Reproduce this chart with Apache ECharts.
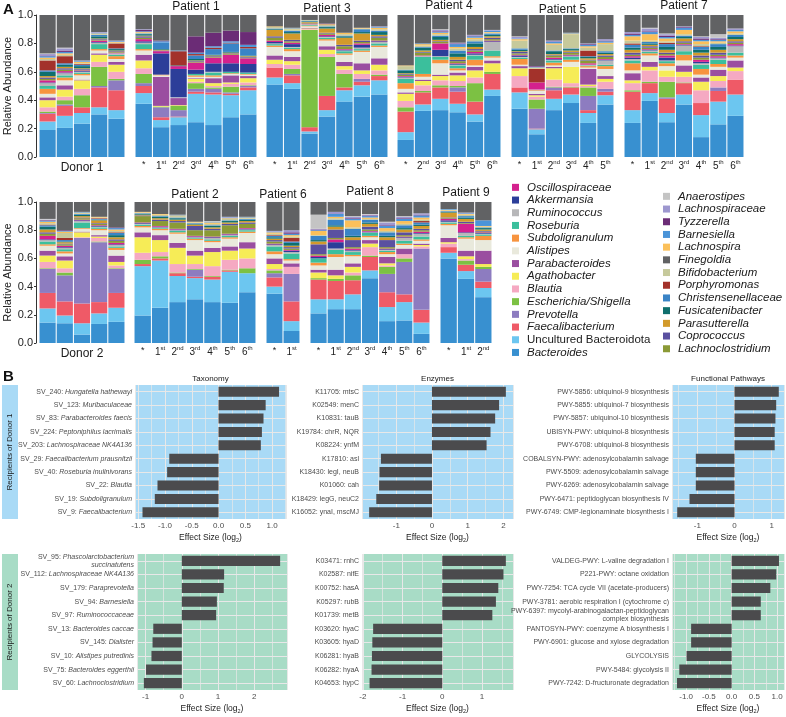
<!DOCTYPE html>
<html><head><meta charset="utf-8">
<script src="https://cdn.jsdelivr.net/npm/echarts@6/dist/echarts.min.js"></script>
<style>html,body{margin:0;padding:0;background:#fff}#c{width:786px;height:717px}</style>
</head><body><div id="c"></div><script>
// ---------------- Panel A data ----------------
const groupNames = ['Donor 1','Patient 1','Patient 3','Patient 4','Patient 5','Patient 7','Donor 2','Patient 2','Patient 6','Patient 8','Patient 9'];
const groupTicks = [
  ['d1a','d1b','d1c','d1d','d1e'],
  ['*','1st','2nd','3rd','4th','5th','6th'],
  ['*','1st','2nd','3rd','4th','5th','6th'],
  ['*','2nd','3rd','4th','5th','6th'],
  ['*','1st','2nd','3rd','4th','5th'],
  ['*','1st','2nd','3rd','4th','5th','6th'],
  ['d2a','d2b','d2c','d2d','d2e'],
  ['*','1st','2nd','3rd','4th','5th','6th'],
  ['*','1st'],
  ['*','1st','2nd','3rd','4th','5th','6th'],
  ['*','1st','2nd']
];
// values per taxon, samples in group order: D1(5) P1(7) P3(7) P4(6) P5(6) P7(7) | D2(5) P2(7) P6(2) P8(7) P9(3)
const bacteroides = [.19,.205,.235,.30,.27, .375,.21,.225,.245,.225,.28,.30, .51,.48,.165,.285,.39,.425,.44, .12,.325,.33,.315,.25,.43, .34,.16,.33,.38,.24,.37, .24,.395,.245,.37,.14,.23,.29, .145,.14,.06,.135,.15, .195,.25,.29,.31,.29,.285,.36, .35,.085, .21,.24,.24,.46,.155,.16,.065, .60,.455,.325];
const uncultured = [.06,.085,.075,.05,.06, .075,.05,.055,.20,.215,.155,.17, .05,.04,.015,.045,.08,.08,.10, .055,.045,.08,.06,.05,.045, .115,.035,.08,.06,.07,.065, .09,.055,.065,.07,.155,.16,.15, .10,.055,.08,.075,.10, .35,.335,.185,.15,.16,.22,.135, .05,.07, .10,.07,.105,.055,.10,.13,.08, .04,.055,.065];
const faecalibacterium = [.055,.07,.04,.14,.14, .05,.02,.005,.015,.015,.01,.02, .07,.055,.03,.10,.02,.025,.03, .145,.085,.08,.085,.09,.11, .035,.005,.06,.05,.02,.025, .13,.07,.10,.08,.085,.075,.105, .11,.10,.14,.08,.105, .015,.015,.02,.01,.02,.01,0, .065,.14, .14,.13,.10,.095,.105,.055,.09, .04,.045,.045];
const prevotella = [.005,.01,0,.01,.07, .02,.07,.045,.02,.025,.01,.01, 0,.01,0,0,0,.02,0, 0,0,0,.03,0,0, 0,.14,.02,0,.10,.02, 0,0,.01,0,0,.025,0, .17,.185,.465,.425,.17, 0,0,0,.05,0,0,0, .03,.195, 0,0,0,0,.13,.23,.435, 0,0,.09];
const escherichia = [.01,.03,.085,.135,.01, .065,.005,.03,.04,.01,.04,.005, 0,.035,.685,.275,.095,0,.01, .03,.01,.015,.01,.13,.015, 0,.065,.005,.005,.06,0, .01,.01,.11,.005,0,0,0, .005,.02,0,.005,.005, .03,.015,.005,.005,.005,.005,.035, .02,0, .01,.015,.035,.01,.05,.025,0, 0,.03,.015];
const blautia = [.03,.025,.045,.035,.05, .04,0,0,.01,.01,.02,.02, .025,.03,.005,.02,.03,.035,.03, .045,.04,.035,.035,.04,0, .08,.02,.05,.025,.01,.05, .05,.08,.035,.04,.09,.045,.06, .045,.03,.005,.025,.02, .05,.03,.06,.035,.07,.07,.07, .01,.05, 0,0,.02,.06,.01,.03,.015, .025,.01,0];
const agathobacter = [.05,.05,.06,.05,.05, .055,.005,.005,.02,.02,.01,.03, .03,.025,.005,.03,.025,.025,.04, .05,.03,.03,.04,.05,.06, .055,.01,.08,.115,.01,.02, .02,.025,.045,.035,.06,.035,.025, .045,.055,.035,.01,.025, .11,.085,.115,.06,.10,.065,.07, .035,0, .04,.025,.04,.025,.015,0,.01, .01,.02,.02];
const parabacteroides = [.02,.03,.005,.01,.02, .04,.205,.05,.005,.035,.05,.015, .03,.03,.005,.025,.03,.05,.045, .01,.01,.01,.02,.025,.02, .015,.01,.01,0,.11,.02, .05,.035,0,.045,.03,.045,.05, .035,.03,.005,.01,.045, .035,.035,.035,.035,.03,.03,.045, .04,.025, .02,.04,.025,.025,.045,.04,.01, .03,.04,.095];
const alistipes = [.025,.035,.03,.02,.02, .03,.01,.005,.01,.01,.01,.01, .06,.04,.01,.04,.05,.08,.08, .025,.02,.08,.015,.01,.02, .01,.02,.01,.035,.01,.05, .02,.045,.03,.035,.02,.02,.02, .035,.02,.02,.035,.04, .035,.035,.065,.075,.04,.055,.065, .03,.02, .03,.09,.05,.02,.02,.025,.02, .09,.085,.075];
const subdoligranulum = [.035,.02,.01,.01,.02, .01,.005,0,.01,.01,.005,.005, .01,.015,.005,.01,.01,.01,.01, .04,.02,.025,.015,.04,.01, .04,.005,.02,.015,.01,.02, .05,.015,.02,.04,.04,.02,.015, .01,.015,.005,.01,.015, .01,.01,.01,.01,.01,.01,.01, .02,.01, .02,.02,.01,.01,.015,.01,.01, .01,.01,.03];
const roseburia = [.02,.015,.01,.035,.01, .035,0,0,.01,.02,.01,.01, .01,.01,.005,.01,.015,.01,.015, .03,.12,.02,.02,.03,.04, .01,0,.015,.02,.005,.01, .02,.01,.015,.025,.03,.03,.02, .02,.015,.04,.01,.01, .01,.005,.01,.005,.01,.01,.01, .035,.04, .03,.03,.02,.02,.01,.02,.02, .01,.01,.01];
const ruminococcus = [.02,.015,.005,.01,.01, .01,0,0,0,.005,0,0, .005,.005,.005,.005,.005,.01,.01, .01,.005,.005,.005,.005,.06, .005,.005,.005,.005,.005,.03, .01,.01,.005,.04,.01,.01,.045, .01,.01,.01,.005,.01, .005,.005,.005,.005,.01,.005,.005, .01,.01, 0,.01,.01,.005,.005,.02,.02, .005,.02,.005];
const akkermansia = [.005,.005,.005,.005,0, .01,.15,.2,.03,.06,.06,.06, .01,.02,0,.005,.005,.02,.005, .005,0,.045,.005,.01,.005, .01,0,.005,.005,0,.005, .01,.005,.02,.005,.01,.005,.005, .005,.005,.005,.005,.005, .005,.005,.005,.005,.005,.005,.005, .005,.01, .01,.045,.005,.005,.005,.005,.005, .01,.005,.005];
const oscillospiraceae = [.015,.01,.005,.01,.005, .015,.015,.02,.05,.04,.06,.04, .01,.01,.005,.01,.005,.01,.005, .005,.005,.045,.005,.01,.005, .005,.05,.01,.005,.01,.005, .01,.005,.015,.005,.015,.01,.01, .025,.01,.005,.005,.01, .005,.005,.005,.005,.005,.005,.005, .005,.005, .01,.02,.01,.005,.005,.005,.01, .01,.06,.005];
const lachnoclostridium = [.01,.01,.005,.005,.005, .01,0,0,.005,.005,.005,.005, .02,.01,.005,.01,.02,.01,.02, .01,.02,.01,.015,.01,.01, .01,0,.015,.015,.02,.015, .01,.01,.01,.01,.015,.01,.01, .015,.01,.01,.01,.015, .045,.035,.045,.04,.045,.06,.03, .015,.01, .01,.01,.01,.01,.01,.01,.01, .005,.005,.005];
const coprococcus = [.01,.01,.005,.005,.005, .01,.005,0,.005,.005,.005,.005, .01,.01,0,.005,.01,.01,.01, .005,.005,.005,.01,.01,.01, .01,0,.005,.005,.005,.01, .015,.01,.01,.01,.015,.015,.01, .01,.005,.005,.005,.01, .005,.01,.01,.03,.01,.01,.01, .01,.01, .07,.06,.05,.02,.05,.02,.01, .005,.01,.005];
const parasutterella = [.01,.01,.005,.005,.005, .005,.005,0,.005,.005,.005,.005, .045,.045,.005,.03,.05,.05,.01, .005,.01,.01,.02,.015,.01, .005,0,.005,.01,.01,.01, .02,.01,.02,.02,.02,.02,.015, .02,.01,.01,.02,.015, .005,.01,.01,.01,.01,.01,.01, .01,.01, .02,.02,.02,.02,.02,.02,.02, .035,.02,.01];
const fusicatenibacter = [.03,.015,.015,.015,.01, .01,.005,.005,.01,.005,.005,.005, .005,.01,.005,.01,.01,.01,.02, .02,.02,.02,.025,.025,.01, .01,0,.02,.01,.01,.01, .015,.01,.02,.01,.02,.02,.015, .02,.005,.01,.005,.015, .005,.01,.01,.005,.01,.01,.01, .01,.02, .01,.01,.01,.01,.01,.01,.01, .005,.01,.01];
const christensenellaceae = [.01,.01,.01,.01,.005, .005,.045,0,.025,.04,.06,.05, .005,.01,.005,.005,.005,.02,.01, .005,.005,.01,.02,.015,.01, .01,0,.005,.005,.005,.01, .02,.01,.02,.01,.02,.02,.015, .01,.01,.005,.005,.015, .005,.005,.005,.005,.005,.005,.005, .01,.01, .03,.04,.05,.02,.025,.02,.015, .005,.01,.005];
const porphyromonas = [.07,.05,.005,0,.035, 0,0,.1,.01,.01,.005,.01, 0,0,0,0,0,0,0, 0,0,0,0,0,0, 0,.095,0,0,.04,0, .01,0,.01,0,.005,0,0, .005,.015,0,.005,.005, 0,0,0,0,0,0,0, .005,.025, 0,0,0,0,0,0,.01, 0,0,0];
const bifidobacterium = [.01,.01,.005,.005,.005, .005,0,0,0,0,0,0, .01,.01,.005,.01,.01,.005,.01, .025,.01,.01,.015,.015,.005, .055,.005,.04,.1,.02,.05, .02,.01,.01,.01,.015,.01,.01, .01,.035,.005,.005,.01, .005,.01,.01,.005,.01,.01,.005, .01,.01, .005,.01,.01,.005,.01,.01,.01, .005,.01,.005];
const lachnospira = [.01,.01,.01,.005,.005, .005,0,0,0,0,0,0, .005,.005,0,.005,.01,.005,.01, .005,.01,.01,.01,.01,.005, .01,.005,.01,.005,.01,.01, .03,.045,.02,.03,.02,.01,.015, .01,.01,.005,.005,.01, .005,.005,.005,.005,.01,.005,.005, .01,.01, .03,.01,.05,.01,.02,.02,.015, .005,.005,.005];
const barnesiella = [.01,.01,.005,.005,.005, .005,.01,.005,.01,.01,.01,.015, 0,.005,0,0,0,0,.005, 0,.005,.005,.02,.01,.01, .005,.005,.01,.005,.01,.01, .01,.015,.01,.015,.01,.01,.01, .005,.005,.005,0,.01, 0,0,.005,0,.005,.005,.005, .005,.01, .005,.02,.01,.01,.015,.015,.015, .005,.005,.04];
const tyzzerella = [.005,.01,0,0,0, .01,.005,0,.115,.095,.075,.09, 0,0,0,.005,0,0,0, 0,0,.005,.005,.005,0, 0,.005,0,0,.005,.005, .01,.005,.01,.005,.01,.005,0, .005,.005,0,0,.005, 0,0,0,0,0,0,0, 0,.01, .005,0,.005,.005,.005,.005,.005, 0,0,0];
const lachnospiraceae = [.01,.015,.005,.005,.005, .005,0,0,0,0,0,0, 0,0,0,0,0,0,.005, 0,0,.01,.005,.005,.005, .01,0,.01,0,.005,.01, .01,.02,.01,.005,.01,.01,.01, .005,0,0,0,0, 0,0,0,0,0,.005,0, .005,.015, .005,.015,.01,.005,.02,.01,.01, 0,.005,0];
const anaerostipes = [.005,.005,0,0,0, 0,0,0,0,0,0,0, 0,0,0,0,0,0,0, 0,0,.005,0,0,0, .005,0,0,0,0,0, 0,.005,.005,0,.005,.025,0, .005,0,0,0,0, 0,0,0,0,.005,0,0, 0,0, .10,0,.005,.005,.005,.005,0, 0,0,0];
const finegoldia = [.27,.23,.32,.12,.18, .10,.18,.25,.15,.125,.11,.12, .08,.09,.035,.06,.125,.09,.08, .355,.20,.10,.195,.14,.105, .15,.36,.18,.125,.20,.17, .13,.09,.13,.08,.15,.135,.095, .12,.20,.07,.105,.18, .07,.085,.09,.14,.135,.105,.105, .205,.20, .09,.07,.10,.085,.14,.10,.08, .05,.075,.13];

const legendCol1 = ['Oscillospiraceae','Akkermansia','Ruminococcus','Roseburia','Subdoligranulum','Alistipes','Parabacteroides','Agathobacter','Blautia','Escherichia/Shigella','Prevotella','Faecalibacterium','Uncultured Bacteroidota','Bacteroides'];
const legendCol2 = ['Anaerostipes','Lachnospiraceae','Tyzzerella','Barnesiella','Lachnospira','Finegoldia','Bifidobacterium','Porphyromonas','Christensenellaceae','Fusicatenibacter','Parasutterella','Coprococcus','Lachnoclostridium'];

// ---------------- Panel B data ----------------
const taxD1Labels = ['SV_240: Hungatella hathewayi','SV_123: Muribaculaceae','SV_83: Parabacteroides faecis','SV_224: Peptoniphilus lacrimalis','SV_203: Lachnospiraceae NK4A136','SV_29: Faecalibacterium prausnitzii','SV_40: Roseburia inulinivorans','SV_22: Blautia','SV_19: Subdoligranulum','SV_9: Faecalibacterium'];
const taxD1Values = [1.13,0.88,0.84,0.81,0.79,-0.92,-0.96,-1.14,-1.19,-1.42];
const enzD1Labels = ['K11705: mtsC','K02549: menC','K10831: tauB','K19784: chrR, NQR','K08224: ynfM','K17810: asl','K18430: legI, neuB','K01060: cah','K18429: legG, neuC2','K16052: ynaI, mscMJ'];
const enzD1Values = [2.07,1.88,1.77,1.64,1.53,-1.43,-1.47,-1.48,-1.56,-1.76];
const pathD1Labels = ['PWY-5856: ubiquinol-9 biosynthesis','PWY-5855: ubiquinol-7 biosynthesis','PWY-5857: ubiquinol-10 biosynthesis','UBISYN-PWY: ubiquinol-8 biosynthesis','PWY-6708: ubiquinol-8 biosynthesis','COBALSYN-PWY: adenosylcobalamin salvage','PWY-5509: adenosylcobalamin salvage','PWY-6269: adenosylcobalamin salvage','PWY-6471: peptidoglycan biosynthesis IV','PWY-6749: CMP-legionaminate biosynthesis I'];
const pathD1Values = [1.19,1.12,1.10,1.08,1.08,-1.04,-1.04,-1.04,-1.21,-1.54];
const taxD2Labels = ['SV_95: Phascolarctobacterium\nsuccinatutens','SV_112: Lachnospiraceae NK4A136','SV_179: Paraprevotella','SV_94: Barnesiella','SV_97: Ruminococcaceae','SV_13: Bacteroides caccae','SV_145: Dialister','SV_10: Alistipes putredinis','SV_75: Bacteroides eggerthii','SV_60: Lachnoclostridium'];
const taxD2Values = [2.72,1.17,1.16,0.97,0.95,-0.79,-0.81,-0.84,-0.99,-1.05];
const enzD2Labels = ['K03471: rnhC','K02587: nifE','K00752: hasA','K05297: rubB','K01739: metB','K03620: hyaC','K03605: hyaD','K06281: hyaB','K06282: hyaA','K04653: hypC'];
const enzD2Values = [1.60,1.54,1.41,1.35,1.26,-1.74,-1.76,-1.77,-1.78,-1.83];
const pathD2Labels = ['VALDEG-PWY: L-valine degradation I','P221-PWY: octane oxidation','PWY-7254: TCA cycle VII (acetate-producers)','PWY-3781: aerobic respiration I (cytochrome c)','PWY-6397: mycolyl-arabinogalactan-peptidoglycan\ncomplex biosynthesis','PANTOSYN-PWY: coenzyme A biosynthesis I','PWY-6901: glucose and xylose degradation','GLYCOLYSIS','PWY-5484: glycolysis II','PWY-7242: D-fructuronate degradation'];
const pathD2Values = [1.04,0.98,0.85,0.64,0.64,-0.89,-0.89,-0.99,-1.15,-1.20];

// ---------------- Build ----------------
const FONT = "'Liberation Sans', Arial, Helvetica, sans-serif";
const taxa = [
  ['Bacteroides','#3890d0',bacteroides],
  ['Uncultured Bacteroidota','#6cc6f0',uncultured],
  ['Faecalibacterium','#ef5a67',faecalibacterium],
  ['Prevotella','#8d7cc0',prevotella],
  ['Escherichia/Shigella','#7cc143',escherichia],
  ['Blautia','#f5a9c2',blautia],
  ['Agathobacter','#f6ec57',agathobacter],
  ['Parabacteroides','#9a4ea0',parabacteroides],
  ['Alistipes','#e9e9dc',alistipes],
  ['Subdoligranulum','#f7943f',subdoligranulum],
  ['Roseburia','#3bbf9c',roseburia],
  ['Ruminococcus','#b7b7b9',ruminococcus],
  ['Akkermansia','#2c3e99',akkermansia],
  ['Oscillospiraceae','#d4218e',oscillospiraceae],
  ['Lachnoclostridium','#8b9a36',lachnoclostridium],
  ['Coprococcus','#5a50a0',coprococcus],
  ['Parasutterella','#d29a2b',parasutterella],
  ['Fusicatenibacter','#0f6f6d',fusicatenibacter],
  ['Christensenellaceae','#3a84c6',christensenellaceae],
  ['Porphyromonas','#a3322b',porphyromonas],
  ['Bifidobacterium','#c6c99b',bifidobacterium],
  ['Lachnospira','#fbc05a',lachnospira],
  ['Barnesiella','#4b94d8',barnesiella],
  ['Tyzzerella','#6b2c76',tyzzerella],
  ['Lachnospiraceae','#9d97cf',lachnospiraceae],
  ['Anaerostipes','#c4c4c4',anaerostipes],
  ['Finegoldia','#616264',finegoldia]
];
// layout boxes for panel A groups [left, top, width, height]
const boxesA = [
  [39,15,86,142],[135,15,122,142],[266,15,122,142],[397,15,104,142],[511,15,103,142],[624,15,120,142],
  [39,202,86,141],[134,202,122,141],[266,202,34,141],[310,202,120,141],[440,202,52,141]
];
const titleY = [0,7,9,6,9.5,6, 0,195,195,192,193];

const grids = [], xAxes = [], yAxes = [], series = [], graphics = [];
const rich = {
  n:{fontSize:10,color:'#222',lineHeight:12,verticalAlign:'bottom',fontFamily:FONT},
  s:{fontSize:6,color:'#222',lineHeight:12,verticalAlign:'top',fontFamily:FONT},
  st:{fontSize:9,color:'#222',lineHeight:12,fontFamily:FONT}
};
function ordLabel(v){
  if (v === '*') return '{st|*}';
  return '{n|' + v.charAt(0) + '}{s|' + v.slice(1) + '}';
}
let start = 0;
groupNames.forEach((g, i) => {
  const n = groupTicks[i].length;
  const b = boxesA[i];
  const donor = g.indexOf('Donor') === 0;
  const first = (i === 0 || i === 6);
  grids.push({left:b[0], top:b[1], width:b[2], height:b[3], containLabel:false, outerBoundsMode:'none'});
  xAxes.push({type:'category', gridIndex:i, data:groupTicks[i],
    axisLine:{show:false}, axisTick:{show:false},
    axisLabel:{show:!donor, interval:0, margin:2, formatter:ordLabel, rich:rich},
    name: donor ? g : '', nameLocation:'middle', nameGap:5,
    nameTextStyle:{fontSize:12, color:'#1a1a1a', fontFamily:FONT, verticalAlign:'top'}});
  yAxes.push({type:'value', gridIndex:i, min:0, max:1, interval:0.2, offset: first ? 3 : 0,
    splitLine:{show:false},
    axisLine:{show:first, lineStyle:{color:'#333', width:1}},
    axisTick:{show:first, length:2, lineStyle:{color:'#333'}},
    axisLabel:{show:first, fontSize:11, color:'#222', margin:3, fontFamily:FONT, formatter:v=>v.toFixed(1)},
    name: first ? 'Relative Abundance' : '', nameLocation:'middle', nameGap:20,
    nameTextStyle:{fontSize:11, color:'#1a1a1a', fontFamily:FONT}});
  taxa.forEach(t => {
    series.push({type:'bar', name:t[0], xAxisIndex:i, yAxisIndex:i, stack:'g'+i,
      data:t[2].slice(start, start+n), barCategoryGap:'6%',
      itemStyle:{color:t[1]}, emphasis:{disabled:true}, silent:true});
  });
  if (!donor) {
    graphics.push({type:'text', x:b[0]+b[2]/2, y:titleY[i],
      style:{text:g, font:'12px '+FONT, fill:'#1a1a1a', align:'center', verticalAlign:'middle'}});
  }
  start += n;
});

// ---------------- Panel B ----------------
const panelsB = [
  {labels:taxD1Labels, values:taxD1Values, box:[135,385,151,134], min:-1.56, max:1.26, step:0.5, dec:1, bg:'#a9daf6', tax:true, title:'Taxonomy'},
  {labels:enzD1Labels, values:enzD1Values, box:[362,385,151,134], min:-1.96, max:2.27, step:1, dec:0, bg:'#a9daf6', title:'Enzymes'},
  {labels:pathD1Labels, values:pathD1Values, box:[672,385,112,134], min:-1.68, max:1.33, step:1, dec:0, bg:'#a9daf6', title:'Functional Pathways'},
  {labels:taxD2Labels, values:taxD2Values, box:[137,554,150,136], min:-1.24, max:2.91, step:1, dec:0, bg:'#a8dcc6', tax:true},
  {labels:enzD2Labels, values:enzD2Values, box:[362,554,151,136], min:-2.02, max:1.78, step:1, dec:0, bg:'#a8dcc6'},
  {labels:pathD2Labels, values:pathD2Values, box:[672,554,112,136], min:-1.31, max:1.15, step:0.5, dec:1, bg:'#a8dcc6'}
];
function taxLabel(s){
  const k = s.indexOf(': ');
  const head = s.slice(0, k+2), tail = s.slice(k+2);
  return tail.split('\n').map((t, j) => (j === 0 ? '{n|' + head + '}' : '') + '{i|' + t + '}').join('\n');
}
function tickFmt(step, dec){
  return function(v){
    const r = v / step;
    if (Math.abs(r - Math.round(r)) > 1e-6) return '';
    const val = Math.round(r) * step;
    return (Math.abs(val) < 1e-9 ? 0 : val).toFixed(dec);
  };
}
const gridLineColor = '#e8e8e8';
panelsB.forEach((p, k) => {
  const gi = grids.length;
  const b = p.box;
  grids.push({left:b[0], top:b[1], width:b[2], height:b[3], show:true, backgroundColor:p.bg, borderWidth:0, containLabel:false, outerBoundsMode:'none'});
  xAxes.push({type:'value', gridIndex:gi, min:p.min, max:p.max, minInterval:p.step, maxInterval:p.step,
    axisLine:{show:false}, axisTick:{show:false},
    axisLabel:{fontSize:8, color:'#4d4d4d', margin:3, fontFamily:FONT, formatter:tickFmt(p.step, p.dec), hideOverlap:false},
    splitLine:{show:true, lineStyle:{color:gridLineColor, width:1}},
    minorTick:{show:false, splitNumber:2},
    minorSplitLine:{show:true, lineStyle:{color:gridLineColor, width:0.7}},
    name:'Effect Size (log{sub|2})', nameLocation:'middle', nameGap:14,
    nameTextStyle:{fontSize:8.5, color:'#1a1a1a', fontFamily:FONT, verticalAlign:'top',
      rich:{sub:{fontSize:5.5, color:'#1a1a1a', fontFamily:FONT, verticalAlign:'bottom', padding:[4,0,0,0]}}}});
  yAxes.push({type:'category', gridIndex:gi, data:p.labels, inverse:true,
    axisLine:{show:false}, axisTick:{show:false},
    axisLabel:{interval:0, fontSize:7, color:'#4d4d4d', margin:3, fontFamily:FONT, lineHeight:8,
      formatter: p.tax ? taxLabel : undefined,
      rich:{n:{fontSize:7, color:'#4d4d4d', fontFamily:FONT, lineHeight:8},
            i:{fontSize:7, color:'#4d4d4d', fontStyle:'italic', fontFamily:FONT, lineHeight:8}}},
    splitLine:{show:false}});
  series.push({type:'bar', xAxisIndex:gi, yAxisIndex:gi, data:p.values, barCategoryGap:'25%',
    itemStyle:{color:'#4b4b4d'}, emphasis:{disabled:true}, silent:true,
    markLine:{silent:true, z:1, symbol:'none', label:{show:false}, emphasis:{disabled:true},
      lineStyle:{color:gridLineColor, width:1, type:'solid'},
      data:p.labels.map(l => ({yAxis:l}))}});
  if (p.title) {
    graphics.push({type:'text', x:b[0]+b[2]/2, y:379,
      style:{text:p.title, font:'8px '+FONT, fill:'#1a1a1a', align:'center', verticalAlign:'middle'}});
  }
});

// strips and panel letters
graphics.push({type:'rect', shape:{x:2, y:385, width:16, height:134}, style:{fill:'#a9daf6'}});
graphics.push({type:'rect', shape:{x:2, y:554, width:16, height:136}, style:{fill:'#a8dcc6'}});
graphics.push({type:'text', x:10, y:452, rotation:Math.PI/2,
  style:{text:'Recipients of Donor 1', font:'8px '+FONT, fill:'#1a1a1a', align:'center', verticalAlign:'middle'}});
graphics.push({type:'text', x:10, y:622, rotation:Math.PI/2,
  style:{text:'Recipients of Donor 2', font:'8px '+FONT, fill:'#1a1a1a', align:'center', verticalAlign:'middle'}});
graphics.push({type:'text', x:3, y:10, style:{text:'A', font:'bold 15px '+FONT, fill:'#111', align:'left', verticalAlign:'middle'}});
graphics.push({type:'text', x:3, y:377, style:{text:'B', font:'bold 15px '+FONT, fill:'#111', align:'left', verticalAlign:'middle'}});

function legendItems(list){
  return list.map(nm => ({name:nm, textStyle:{fontStyle: nm === 'Uncultured Bacteroidota' ? 'normal' : 'italic'}}));
}
const legendBase = {orient:'vertical', padding:0, itemGap:0, itemWidth:7, itemHeight:7, icon:'rect', selectedMode:false,
  textStyle:{fontSize:11.5, color:'#1a1a1a', fontFamily:FONT, lineHeight:12.7, padding:[0,0,0,3]}};

const option = {
  animation:false,
  textStyle:{fontFamily:FONT},
  grid:grids, xAxis:xAxes, yAxis:yAxes, series:series,
  legend:[
    Object.assign({}, legendBase, {left:512, top:181, data:legendItems(legendCol1)}),
    Object.assign({}, legendBase, {left:663, top:190, data:legendItems(legendCol2)})
  ],
  graphic:{elements:graphics}
};
const chart = echarts.init(document.getElementById('c'), null, {renderer:'canvas'});
chart.setOption(option);
</script></body></html>
